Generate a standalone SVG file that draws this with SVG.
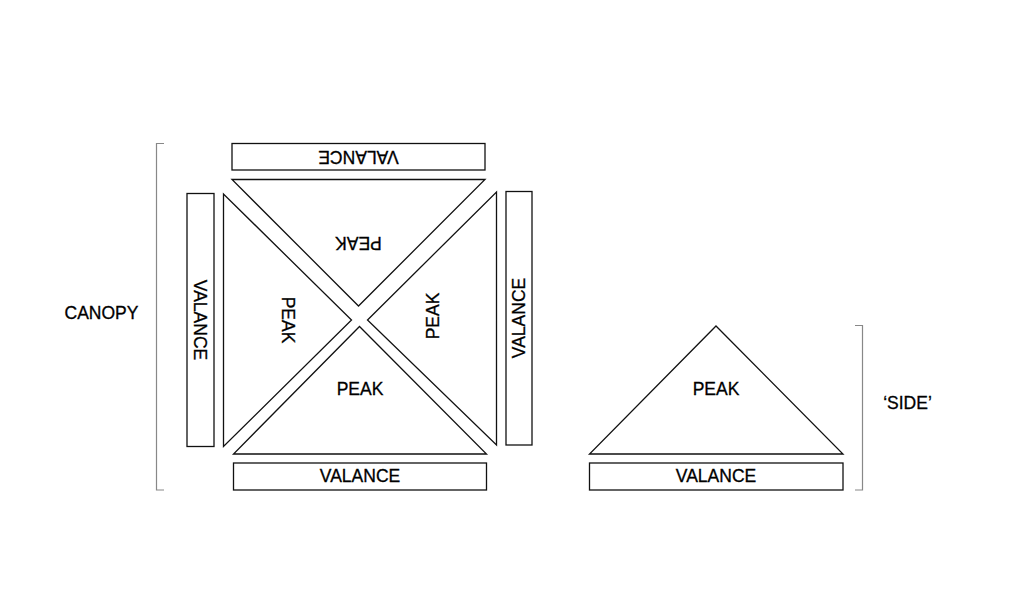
<svg xmlns="http://www.w3.org/2000/svg" width="1024" height="589" viewBox="0 0 1024 589">
<style>
.s{fill:#fff;stroke:#111;stroke-width:1.3}
.b{fill:none;stroke:#888;stroke-width:1.2}
text{font-family:"Liberation Sans",Arial,sans-serif;font-size:17.5px;fill:#000;stroke:#000;stroke-width:0.3;text-anchor:middle}
</style>
<rect width="1024" height="589" fill="#fff"/>
<g id="connectors">
<path class="b" d="M164,143.5 H156.5 V490 H164"/>
<path class="b" d="M855,325.5 H862.5 V490 H855"/>
</g>
<g id="canopy-label"><text x="101.5" y="319">CANOPY</text></g>
<g id="side-label"><text x="907.5" y="409">‘SIDE’</text></g>
<g id="valance-top"><rect class="s" x="232" y="143.5" width="253" height="26.5"/><text transform="translate(358.5,157) rotate(180)" y="6.3">VALANCE</text></g>
<g id="peak-top"><polygon class="s" points="232,179.5 485,179.5 358.5,306"/><text transform="translate(358.5,243) rotate(180)" y="6.3">PEAK</text></g>
<g id="valance-left"><rect class="s" x="187" y="193.5" width="27" height="253"/><text transform="translate(200.5,320) rotate(90)" y="6.3">VALANCE</text></g>
<g id="peak-left"><polygon class="s" points="223.5,194 223.5,446.5 351.5,320"/><text transform="translate(288,320) rotate(90)" y="6.3">PEAK</text></g>
<g id="peak-right"><polygon class="s" points="496.5,192 496.5,445 367.5,320"/><text transform="translate(433,316) rotate(-90)" y="6.3">PEAK</text></g>
<g id="valance-right"><rect class="s" x="506" y="191.5" width="26" height="253.5"/><text transform="translate(519,318) rotate(-90)" y="6.3">VALANCE</text></g>
<g id="peak-bottom"><polygon class="s" points="233.5,454 486.5,454 359.5,326.5"/><text x="360" y="395">PEAK</text></g>
<g id="valance-bottom"><rect class="s" x="233.5" y="463" width="253" height="27"/><text x="360" y="482">VALANCE</text></g>
<g id="side-peak"><polygon class="s" points="589.5,454 843,454 716,326"/><text x="716" y="395">PEAK</text></g>
<g id="side-valance"><rect class="s" x="589.5" y="463" width="253.5" height="27"/><text x="716" y="482">VALANCE</text></g>
</svg>
